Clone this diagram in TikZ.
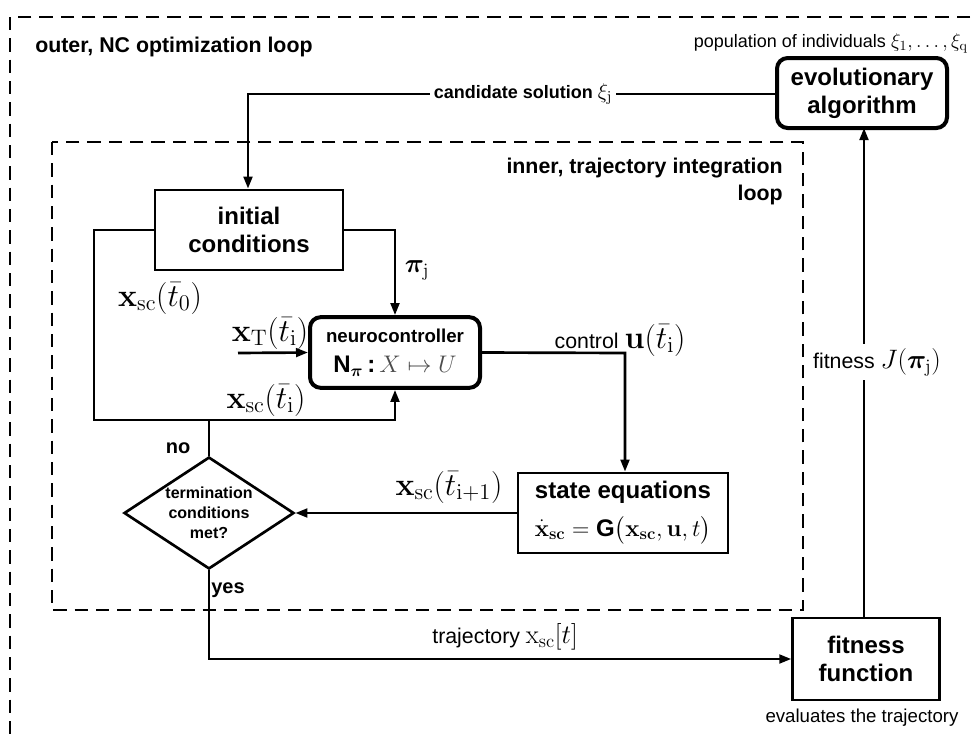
\documentclass[tikz,border=0pt]{standalone}
\usepackage{fix-cm}
\usepackage{amsmath}
\usepackage{bm}
\usepackage[no-math]{fontspec}
\setmainfont{Liberation Sans}
\usetikzlibrary{arrows.meta,shapes.geometric}
\tikzset{
  conn/.style={line width=2pt,-{Triangle[length=9pt,width=6.5pt]}},
  plainline/.style={line width=2pt},
  sqbox/.style={draw,line width=2pt,align=center,inner sep=0pt,
    font=\fontsize{18}{21}\selectfont\bfseries},
  rndbox/.style={sqbox,rounded corners=8pt,line width=3pt},
  dashbox/.style={draw,line width=2pt,dash pattern=on 10pt off 6pt},
  mlabel/.style={inner sep=0pt,font=\fontsize{24}{28}\selectfont},
  blabel/.style={inner sep=0pt,font=\fontsize{16}{20}\selectfont\bfseries},
}
\begin{document}
\begin{tikzpicture}[x=0.75pt,y=-0.75pt]
\useasboundingbox (0,0) rectangle (975,736);
\clip (0,0) rectangle (975,736);
% dashed loops
\draw[dashbox] (10,17) rectangle (995,760);
\draw[dashbox] (52,142) rectangle (803,610);
\node[blabel,anchor=west] (outerlbl) at (35,47) {outer, NC optimization loop};
\node[blabel,anchor=north east,align=right] (innerlbl) at (783,158) {inner, trajectory integration\\[0pt]loop};
\node[inner sep=0pt,anchor=east,font=\fontsize{13.5}{17}\selectfont] (poplbl) at (968,43)
  {population of individuals {\fontsize{15}{19}\selectfont$\xi_{1},\ldots,\xi_{\mathrm{q}}$}};
% boxes
\node[rndbox,minimum width=127.5pt,minimum height=52.5pt] (evo) at (862,93) {evolutionary\\algorithm};
\node[sqbox,minimum width=141pt,minimum height=60pt] (init) at (249,230) {initial\\conditions};
\node[rndbox,minimum width=127.5pt,minimum height=53pt,font=\fontsize{14}{18}\selectfont\bfseries] (neuro) at (395,352.5)
  {neurocontroller\\[5pt]{\fontsize{18}{19}\selectfont N$_{\bm{\pi}}$\,:\,$\color{black!70}X\mapsto U$}};
\node[sqbox,minimum width=157.5pt,minimum height=60pt] (state) at (623,513)
  {state equations\\[7pt]{\fontsize{18}{21}\selectfont\mdseries$\dot{\mathbf{x}}_{\mathbf{sc}}=\text{\bfseries G}\big(\mathbf{x}_{\mathbf{sc}},\mathbf{u},t\big)$}};
\node[draw,diamond,line width=2pt,aspect=1.52,inner sep=0pt,minimum width=127.5pt,minimum height=84pt,
  align=center,font=\fontsize{12}{15}\selectfont\bfseries] (term) at (209,513) {termination\\conditions\\met?};
\node[sqbox,minimum width=110pt,minimum height=61.5pt] (fit) at (866,659) {fitness\\function};
% helper coordinates
\coordinate (cTop) at (248,94);
\coordinate (cLeftUp) at (94,230);
\coordinate (cLeftDn) at (94,420);
\coordinate (cJoin) at (209,420);
\coordinate (cPi) at (395,230);
\coordinate (cXT) at (238,353);
\coordinate (cCtrl) at (625,353);
\coordinate (cYes) at (209,659);
\coordinate (cFitTop) at (864,618);
\coordinate (cEvoBot) at (864,128);
% connectors
\draw[conn] (evo.west |- cTop) -- (cTop) -- (init.north -| cTop);
\draw[conn] (init.west) -- (cLeftUp) -- (cLeftDn) -- (cLeftDn -| neuro.south) -- (neuro.south);
\draw[conn] (init.east) -- (cPi) -- (neuro.north);
\draw[conn] (cXT) -- (neuro.west);
\draw[conn] (neuro.east) -- (cCtrl) -- (state.north -| cCtrl);
\draw[conn] (state.west) -- (term.east);
\draw[plainline] (term.north) -- (cJoin);
\draw[conn] (term.south) -- (cYes) -- (fit.west);
\draw[conn] (cFitTop) -- (cEvoBot);
% labels
\node[inner sep=3pt,fill=white,font=\fontsize{13.5}{16}\selectfont\bfseries] (candlbl) at (523,94)
  {candidate solution {\mdseries\fontsize{16}{19}\selectfont$\xi_{\mathrm{j}}$}};
\node[mlabel] (lx0) at (160,298) {$\mathbf{x}_{\mathrm{sc}}(\bar{t}_{0})$};
\node[mlabel] (lxT) at (270,333) {$\mathbf{x}_{\mathrm{T}}(\bar{t}_{\mathrm{i}})$};
\node[mlabel] (lxi) at (266,400) {$\mathbf{x}_{\mathrm{sc}}(\bar{t}_{\mathrm{i}})$};
\node[inner sep=0pt,font=\fontsize{20}{24}\selectfont] (lpi) at (417,270) {$\bm{\pi}_{\mathrm{j}}$};
\node[inner sep=0pt,anchor=base] (lctrl) at (620,348) {{\fontsize{16}{19}\selectfont control }{\fontsize{24}{28}\selectfont$\mathbf{u}(\bar{t}_{\mathrm{i}})$}};
\node[mlabel] (lxi1) at (449,487) {$\mathbf{x}_{\mathrm{sc}}(\bar{t}_{\mathrm{i+1}})$};
\node[inner sep=0pt,font=\fontsize{15}{18}\selectfont\bfseries] (lno) at (178,448) {no};
\node[inner sep=0pt,font=\fontsize{15}{18}\selectfont\bfseries] (lyes) at (228,590) {yes};
\node[inner sep=0pt] (ltraj) at (505,637) {{\fontsize{16}{19}\selectfont trajectory }{\fontsize{20}{24}\selectfont$\mathrm{x}_{\mathrm{sc}}[t]$}};
\node[inner sep=3pt,fill=white] (lfit) at (877,362) {{\fontsize{16}{19}\selectfont fitness }{\fontsize{20}{24}\selectfont$J(\bm{\pi}_{\mathrm{j}})$}};
\node[inner sep=0pt,font=\fontsize{14}{17}\selectfont] (leval) at (862,718) {evaluates the trajectory};
\end{tikzpicture}
\end{document}
